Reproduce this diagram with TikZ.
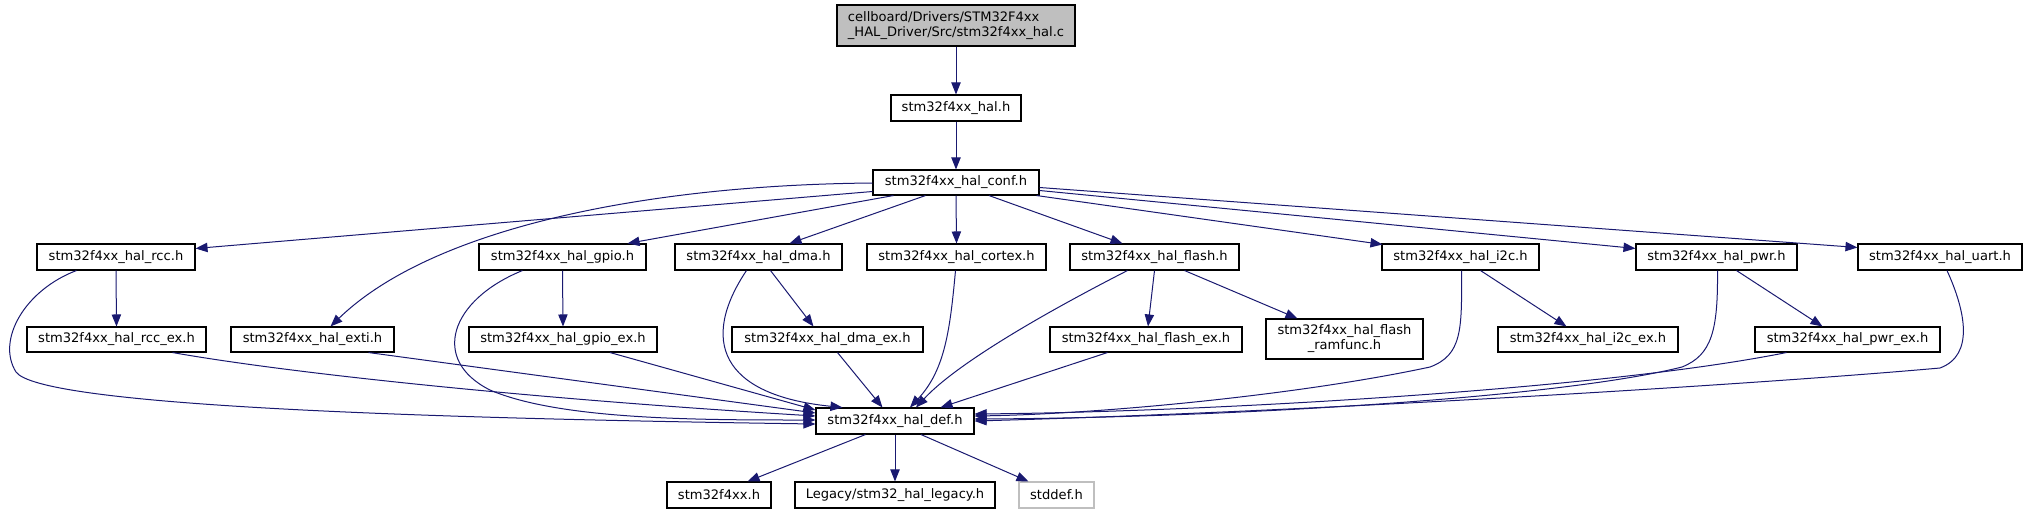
\documentclass[tikz,border=0pt]{standalone}
\usepackage{fontspec}
\setmainfont{DejaVu Sans}
\usetikzlibrary{arrows.meta,calc}
\definecolor{edgeblue}{HTML}{191970}
\definecolor{topgray}{HTML}{BFBFBF}
\definecolor{lightframe}{HTML}{BFBFBF}
\newcommand{\dgnode}[7]{\node[box,#7,minimum width={(#4-#2)*0.75pt},minimum height={(#5-#3)*0.75pt}] (#1) at ({(#2+#4)/2},{(#3+#5)/2}) {#6};}
\begin{document}
\begin{tikzpicture}[x=0.75pt,y=-0.75pt,
  box/.style={draw=black,line width=0.8pt,fill=white,inner sep=0pt,font=\fontsize{9.8}{11.25}\selectfont},
  dep/.style={draw=edgeblue,line width=0.75pt,-{Triangle[length=9pt,width=7pt]}},
]
\useasboundingbox (0,0) rectangle (2028,515);
% nodes
\dgnode{top}{837}{5}{1075}{46}{cellboard/Drivers/STM32F4xx\\\_HAL\_Driver/Src/stm32f4xx\_hal.c}{fill=topgray,align=left}
\dgnode{hal}{891}{95}{1021}{121}{stm32f4xx\_hal.h}{}
\dgnode{conf}{873}{170}{1039}{195}{stm32f4xx\_hal\_conf.h}{}
\dgnode{rcc}{37}{244}{195}{270}{stm32f4xx\_hal\_rcc.h}{}
\dgnode{gpio}{479}{244}{646}{270}{stm32f4xx\_hal\_gpio.h}{}
\dgnode{dma}{675}{244}{842}{270}{stm32f4xx\_hal\_dma.h}{}
\dgnode{cortex}{867}{244}{1046}{270}{stm32f4xx\_hal\_cortex.h}{}
\dgnode{flash}{1070}{244}{1239}{270}{stm32f4xx\_hal\_flash.h}{}
\dgnode{i2c}{1382}{244}{1539}{270}{stm32f4xx\_hal\_i2c.h}{}
\dgnode{pwr}{1636}{244}{1797}{270}{stm32f4xx\_hal\_pwr.h}{}
\dgnode{uart}{1858}{244}{2022}{270}{stm32f4xx\_hal\_uart.h}{}
\dgnode{rccex}{27}{327}{206}{352}{stm32f4xx\_hal\_rcc\_ex.h}{}
\dgnode{exti}{231}{327}{394}{352}{stm32f4xx\_hal\_exti.h}{}
\dgnode{gpioex}{469}{327}{657}{352}{stm32f4xx\_hal\_gpio\_ex.h}{}
\dgnode{dmaex}{732}{327}{923}{352}{stm32f4xx\_hal\_dma\_ex.h}{}
\dgnode{flashex}{1050}{327}{1242}{352}{stm32f4xx\_hal\_flash\_ex.h}{}
\dgnode{ramfunc}{1266}{319}{1423}{359}{stm32f4xx\_hal\_flash\\\_ramfunc.h}{align=center}
\dgnode{i2cex}{1498}{327}{1678}{352}{stm32f4xx\_hal\_i2c\_ex.h}{}
\dgnode{pwrex}{1755}{327}{1940}{352}{stm32f4xx\_hal\_pwr\_ex.h}{}
\dgnode{def}{816}{408}{974}{434}{stm32f4xx\_hal\_def.h}{}
\dgnode{fxx}{667}{482}{771}{508}{stm32f4xx.h}{}
\dgnode{legacy}{795}{482}{995}{508}{Legacy/stm32\_hal\_legacy.h}{}
\dgnode{stddef}{1019}{482}{1094}{508}{stddef.h}{draw=lightframe}
% edges
\draw[dep] (top.south) -- (hal.north);
\draw[dep] (hal.south) -- (conf.north);
\draw[dep] ($(conf.west)+(0,9)$) -- ($(rcc.north east)+(0,5)$);
\draw[dep] ($(conf.west)+(0,0.5)$) .. controls (640,185) and (430,230) .. ($(exti.north)+(18,0)$);
\draw[dep] ($(conf.south west)+(21,0)$) -- ($(gpio.north east)+(-19,0)$);
\draw[dep] ($(conf.south west)+(53,0)$) -- ($(dma.north)+(31,0)$);
\draw[dep] (conf.south) -- (cortex.north);
\draw[dep] ($(conf.south)+(33,0)$) -- ($(flash.north west)+(53,0)$);
\draw[dep] ($(conf.south east)+(-3,0)$) -- ($(i2c.north west)+(1,1)$);
\draw[dep] ($(conf.east)+(0,8)$) -- ($(pwr.north west)+(0,5)$);
\draw[dep] ($(conf.east)+(0,5)$) -- ($(uart.north west)+(0,4)$);
% rcc
\draw[dep] (rcc.south) -- (rccex.north);
\draw[dep] ($(rcc.south west)+(40,0)$) .. controls (25,290) and (-4,340) .. (16,372)
   .. controls (40,405) and (400,418) .. ($(def.west)+(0,3)$);
% gpio
\draw[dep] (gpio.south) -- (gpioex.north);
\draw[dep] ($(gpio.south west)+(44,0)$) .. controls (450,300) and (430,360) .. (490,390)
   .. controls (560,420) and (700,420) .. ($(def.west)+(0,-1)$);
% dma
\draw[dep] ($(dma.south west)+(72,0)$) .. controls (700,340) and (720,395) .. ($(def.north west)+(27,0)$);
\draw[dep] ($(dma.south)+(12,0)$) -- ($(dmaex.north west)+(82,0)$);
\draw[dep] ($(dmaex.south)+(10,0)$) -- ($(def.north west)+(67,0)$);
% cortex
\draw[dep] ($(cortex.south)+(-1,0)$) .. controls (950,330) and (945,370) .. ($(def.north)+(15,0)$);
% flash
\draw[dep] ($(flash.south west)+(58,0)$) .. controls (1060,305) and (960,360) .. ($(def.north)+(21,0)$);
\draw[dep] (flash.south) -- ($(flashex.north)+(2,0)$);
\draw[dep] ($(flash.south east)+(-55,0)$) -- ($(ramfunc.north west)+(32,0)$);
\draw[dep] ($(flashex.south west)+(58,0)$) -- ($(def.north east)+(-34,0)$);
% i2c
\draw[dep] ($(i2c.south)+(1,0)$) .. controls (1462,330) and (1462,355) .. (1430,367)
   .. controls (1300,395) and (1100,414) .. ($(def.east)+(0,-5)$);
\draw[dep] ($(i2c.south)+(20,0)$) -- ($(i2cex.north west)+(69,0)$);
% pwr
\draw[dep] ($(pwr.south)+(1,0)$) .. controls (1718,330) and (1712,355) .. (1682,367)
   .. controls (1550,400) and (1200,418) .. ($(def.east)+(0,-2)$);
\draw[dep] ($(pwr.south)+(20,0)$) -- ($(pwrex.north west)+(68,0)$);
\draw[dep] ($(pwrex.south west)+(32,0)$) .. controls (1600,390) and (1200,412) .. ($(def.east)+(0,-7)$);
% uart
\draw[dep] ($(uart.south)+(7,0)$) .. controls (1965,310) and (1975,355) .. (1940,368)
   .. controls (1750,385) and (1300,412) .. ($(def.east)+(0,0)$);
% left side
\draw[dep] ($(rccex.south)+(56,0)$) .. controls (300,375) and (550,400) .. ($(def.west)+(0,-5)$);
\draw[dep] ($(exti.south)+(56,0)$) -- ($(def.west)+(0,-8)$);
\draw[dep] ($(gpioex.south)+(47,0)$) -- ($(def.west)+(0,-11)$);
% hal_def
\draw[dep] ($(def.south west)+(50,0)$) -- ($(fxx.north east)+(-24,0)$);
\draw[dep] (def.south) -- (legacy.north);
\draw[dep] ($(def.south)+(26,0)$) -- ($(stddef.north west)+(10,0)$);
\end{tikzpicture}
\end{document}
